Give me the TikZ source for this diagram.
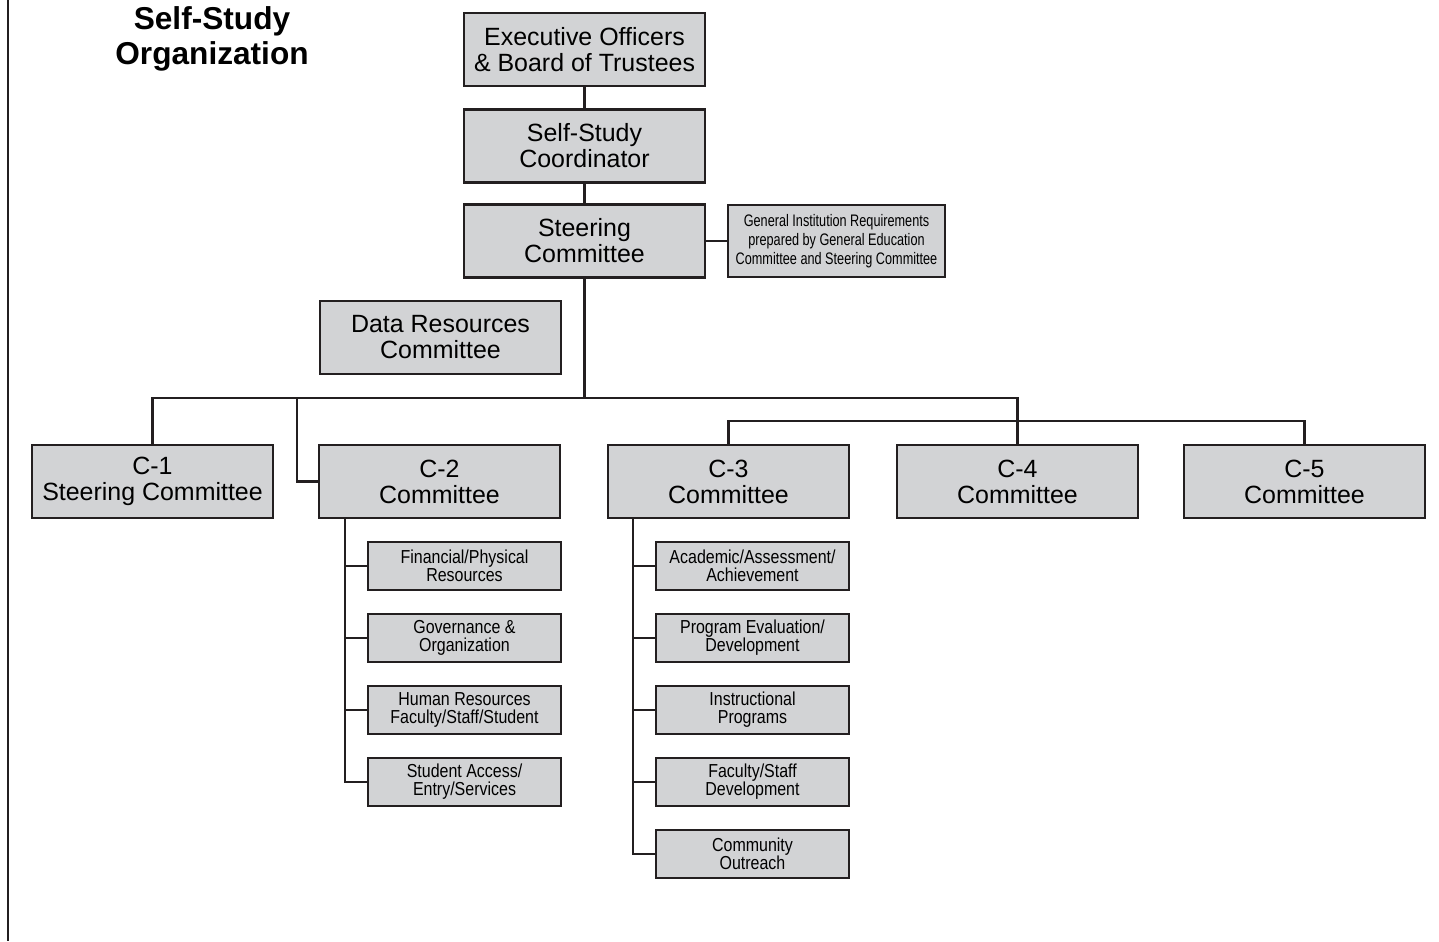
\documentclass[tikz,border=0pt]{standalone}
\usepackage{fontspec}
\setmainfont{Liberation Sans}
\newfontfamily\narrowfont[FakeStretch=0.85]{Liberation Sans}
\newfontfamily\tightfont[FakeStretch=0.76]{Liberation Sans}
\definecolor{boxgrey}{RGB}{210,211,213}
\definecolor{ink}{RGB}{35,31,32}
\tikzset{
  unit/.style={draw=ink, line width=1.4pt, fill=boxgrey, align=center, inner sep=0pt,
    minimum width=4.82cm, minimum height=1.46cm, font=\fontsize{14.2}{14.8}\selectfont},
  subunit/.style={draw=ink, line width=1.4pt, fill=boxgrey, align=center, inner sep=0pt,
    minimum width=3.86cm, minimum height=0.96cm, font=\narrowfont\fontsize{10.7}{10.2}\selectfont},
  link/.style={draw=ink, line width=1.2pt}
}

\begin{document}
\begin{tikzpicture}[x=0.02cm, y=-0.02cm]
    \useasboundingbox (0,0) rectangle (1439,941);

    % Margin rule
    \draw [ink, line width=1.5pt] (8,0) -- (8,941);

    % Title
    \node (title) [align=center, font=\bfseries\fontsize{18}{19.5}\selectfont] at (212,39) {Self-Study\\Organization};

    % Top of the chain
    \node (exec) [unit] at (584.5,49.5) {Executive Officers\\\& Board of Trustees};
    \node (coord) [unit] at (584.5,146) {Self-Study\\Coordinator};
    \node (steer) [unit] at (584.5,241) {Steering\\Committee};
    \node (gir) [unit, minimum width=4.34cm, minimum height=1.44cm,
                 font=\tightfont\fontsize{9.5}{10.9}\selectfont] at (836.5,241)
      {General Institution Requirements\\prepared by General Education\\Committee and Steering Committee};
    \node (data) [unit] at (440.5,337.5) {Data Resources\\Committee};

    % The five committees
    \node (c1) [unit] at (152.5,481.5) {C-1\\Steering Committee};
    \node (c2) [unit] at (439.5,481.5) {C-2\\Committee};
    \node (c3) [unit] at (728.5,481.5) {C-3\\Committee};
    \node (c4) [unit] at (1017.5,481.5) {C-4\\Committee};
    \node (c5) [unit] at (1304.5,481.5) {C-5\\Committee};

    % C-2 subcommittees
    \node (fin) [subunit] at (464.5,566) {Financial/Physical\\Resources};
    \node (gov) [subunit] at (464.5,638) {Governance \&\\Organization};
    \node (hum) [subunit] at (464.5,710) {Human Resources\\Faculty/Staff/Student};
    \node (stu) [subunit] at (464.5,782) {Student Access/\\Entry/Services};

    % C-3 subcommittees
    \node (aca) [subunit] at (752.5,566) {Academic/Assessment/\\Achievement};
    \node (prg) [subunit] at (752.5,638) {Program Evaluation/\\Development};
    \node (ins) [subunit] at (752.5,710) {Instructional\\Programs};
    \node (fac) [subunit] at (752.5,782) {Faculty/Staff\\Development};
    \node (com) [subunit] at (752.5,854) {Community\\Outreach};

    % Joints
    \coordinate (bar) at (584.5,398);
    \coordinate (c2tap) at (297,398);
    \coordinate (c2spine) at (345,518);
    \coordinate (c3spine) at (633,518);

    % Links down the chain
    \draw [link] (exec) -- (coord);
    \draw [link] (coord) -- (steer);
    \draw [link] (steer) -- (gir);
    \draw [link] (steer) -- (bar);
    \draw [link] (c1.north) |- (bar);
    \draw [link] (c4.north) |- (bar);
    \draw [link] (c2.west) -| (c2tap);
    \draw [link] (c3.north) -- ++(0,-23) -| (c5.north);

    % Links to the subcommittees
    \foreach \s in {fin,gov,hum,stu}
      \draw [link] (c2spine) |- (\s.west);
    \foreach \s in {aca,prg,ins,fac,com}
      \draw [link] (c3spine) |- (\s.west);
\end{tikzpicture}
\end{document}
